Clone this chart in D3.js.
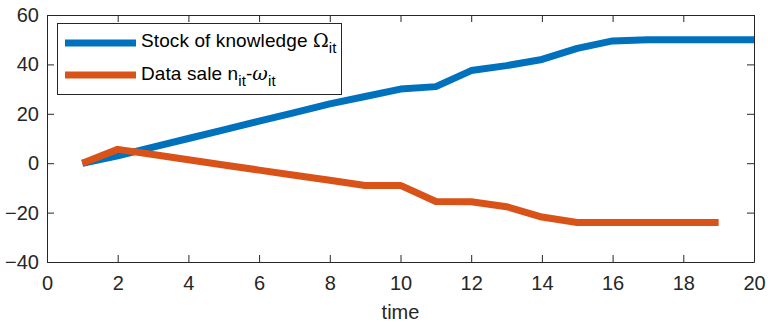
<!DOCTYPE html>
<html>
<head>
<meta charset="utf-8">
<script src="https://cdn.jsdelivr.net/npm/d3@7"></script>
<style>
  html, body { margin: 0; padding: 0; background: #fff; }
  svg { display: block; font-family: "Liberation Sans", Arial, sans-serif; }
</style>
</head>
<body>
<div id="chart"></div>
<script>
// data
const time = [1, 2, 3, 4, 5, 6, 7, 8, 9, 10, 11, 12, 13, 14, 15, 16, 17, 18, 19, 20];
const knowledge = [0, 3, 6.5, 10, 13.5, 17, 20.5, 24, 27, 30, 31, 37.5, 39.5, 42, 46.5, 49.5, 50, 50, 50, 50];
const dataSale = [0, 5.6, 3.5, 1.4, -0.7, -2.8, -4.9, -6.9, -9, -9, -15.5, -15.6, -17.6, -21.8, -24, -24, -24, -24, -24];
const xTicks = [0, 2, 4, 6, 8, 10, 12, 14, 16, 18, 20];
const yTicks = [-40, -20, 0, 20, 40, 60];

const svgWidth = 768, svgHeight = 322;
const margin = { top: 15, right: 14, bottom: 60, left: 47 };
const width = svgWidth - margin.left - margin.right,
  height = svgHeight - margin.top - margin.bottom;
const axisColor = "#262626";
const blue = "#0072BD", orange = "#D95319";

const svg = d3.select("#chart").append("svg")
  .attr("width", svgWidth)
  .attr("height", svgHeight);

const g = svg.append("g")
  .attr("transform", "translate(" + margin.left + "," + margin.top + ")");

const x = d3.scaleLinear().domain([0, 20]).range([0, width]);
const y = d3.scaleLinear().domain([-40, 60]).range([height, 0]);

// lines
const line = d3.line()
  .x((d, i) => x(time[i]))
  .y(d => y(d));

g.append("path")
  .attr("d", line(knowledge))
  .attr("fill", "none")
  .attr("stroke", blue)
  .attr("stroke-width", 7)
  .attr("stroke-linejoin", "round");

g.append("path")
  .attr("d", line(dataSale))
  .attr("fill", "none")
  .attr("stroke", orange)
  .attr("stroke-width", 7)
  .attr("stroke-linejoin", "round");

// axes, matlab style: ticks inside, box on
const tickLen = 7;
function styleAxis(sel) {
  sel.select(".domain").attr("stroke", axisColor).attr("stroke-width", 1);
  sel.selectAll(".tick line").attr("stroke", axisColor).attr("stroke-width", 1);
  sel.selectAll("text")
    .attr("fill", axisColor)
    .attr("font-size", 20)
    .attr("font-family", "Liberation Sans, Arial, sans-serif");
}

g.append("g")
  .attr("transform", "translate(0," + height + ")")
  .call(d3.axisBottom(x).tickValues(xTicks).tickSizeInner(-tickLen).tickSizeOuter(0).tickPadding(14))
  .call(styleAxis);

g.append("g")
  .call(d3.axisTop(x).tickValues(xTicks).tickSizeInner(-tickLen).tickSizeOuter(0).tickFormat(""))
  .call(styleAxis);

g.append("g")
  .call(d3.axisLeft(y).tickValues(yTicks).tickSizeInner(-tickLen).tickSizeOuter(0).tickPadding(8))
  .call(styleAxis);

g.append("g")
  .attr("transform", "translate(" + width + ",0)")
  .call(d3.axisRight(y).tickValues(yTicks).tickSizeInner(-tickLen).tickSizeOuter(0).tickFormat(""))
  .call(styleAxis);

// x label
svg.append("text")
  .attr("x", margin.left + width / 2)
  .attr("y", 319)
  .attr("text-anchor", "middle")
  .attr("font-size", 20)
  .attr("fill", axisColor)
  .text("time");

// legend
const legend = svg.append("g");
legend.append("rect")
  .attr("x", 57.5).attr("y", 23.5)
  .attr("width", 284).attr("height", 71)
  .attr("fill", "#fff")
  .attr("stroke", axisColor)
  .attr("stroke-width", 1);

const items = [
  { color: blue, yPos: 43 },
  { color: orange, yPos: 75 }
];
legend.selectAll("line.key")
  .data(items)
  .enter().append("line")
  .attr("class", "key")
  .attr("x1", 65).attr("x2", 136)
  .attr("y1", d => d.yPos).attr("y2", d => d.yPos)
  .attr("stroke", d => d.color)
  .attr("stroke-width", 7);

const t1 = legend.append("text")
  .attr("x", 141).attr("y", 47)
  .attr("font-size", 19)
  .attr("letter-spacing", 0.1)
  .attr("fill", "#000");
t1.append("tspan").text("Stock of knowledge ");
t1.append("tspan").attr("font-family", "DejaVu Serif, serif").text("Ω");
t1.append("tspan").attr("dy", 6).attr("font-size", 15).text("it");

const t2 = legend.append("text")
  .attr("x", 141).attr("y", 79.5)
  .attr("font-size", 19)
  .attr("letter-spacing", 0.1)
  .attr("fill", "#000");
t2.append("tspan").text("Data sale n");
t2.append("tspan").attr("dy", 6).attr("font-size", 15).text("it");
t2.append("tspan").attr("dy", -6).text("-");
t2.append("tspan").attr("font-style", "italic").attr("font-family", "DejaVu Serif, serif").text("ω");
t2.append("tspan").attr("dy", 6).attr("font-size", 15).text("it");
</script>
</body>
</html>
